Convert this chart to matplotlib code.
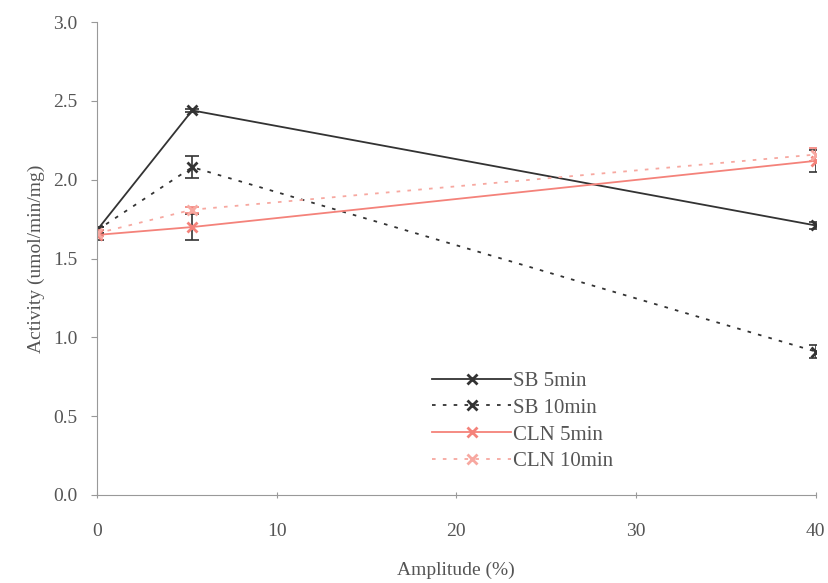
import numpy as np
import matplotlib
matplotlib.use("Agg")
import matplotlib.pyplot as plt

plt.rcParams['font.family'] = ['Liberation Serif', 'DejaVu Serif']

# data
amp = [0, 5.3, 40]
sb5 = [1.68, 2.44, 1.71]
sb5_err = [0.02, 0.01, 0.02]
sb10 = [1.68, 2.08, 0.91]
sb10_err = [0.02, 0.07, 0.04]
cln5 = [1.65, 1.70, 2.12]
cln5_err = [0.03, 0.08, 0.07]
cln10 = [1.66, 1.81, 2.16]
cln10_err = [0.02, 0.02, 0.04]

dark = '#333333'
pink = '#f4827a'
pink_light = '#f7a8a0'
txt = '#555555'

fig = plt.figure(figsize=(8.29, 5.83), dpi=100)
ax = fig.add_axes([0.117, 0.151, 0.867, 0.811])

series = [
    (sb5, sb5_err, dark, '-', dark, 'SB 5min'),
    (sb10, sb10_err, dark, (0, (2, 4)), dark, 'SB 10min'),
    (cln5, cln5_err, pink, '-', dark, 'CLN 5min'),
    (cln10, cln10_err, pink_light, (0, (2, 4)), pink, 'CLN 10min'),
]
for y, err, c, ls, ec, lab in series:
    ax.errorbar(amp, y, yerr=err, fmt='none', ecolor=ec, elinewidth=1.2, capsize=5, capthick=1.2)
    ax.plot(amp, y, color=c, ls=ls, lw=1.3, marker='x', ms=7, mew=2, label=lab)

ax.set_xlim(0, 40)
ax.set_ylim(0, 3.0)
ax.set_xticks([0, 10, 20, 30, 40])
ax.set_yticks(np.arange(0, 3.01, 0.5))
ax.set_yticklabels(['%.1f' % v for v in np.arange(0, 3.01, 0.5)])
for s in ['top', 'right']:
    ax.spines[s].set_visible(False)
for s in ['left', 'bottom']:
    ax.spines[s].set_color('#999999')
ax.tick_params(axis='x', colors=txt, labelsize=14, pad=18, length=4, direction='inout', color='#999999')
ax.tick_params(axis='y', colors=txt, labelsize=14, pad=10, length=4, direction='out', color='#999999')
ax.set_xlabel('Amplitude (%)', fontsize=14, color=txt, labelpad=16)
ax.set_ylabel('Activity (umol/min/mg)', fontsize=14, color=txt, labelpad=6)

leg = ax.legend(loc='lower left', bbox_to_anchor=(0.44, 0.01), frameon=False, fontsize=15,
                handlelength=3.8, labelspacing=0.35, handletextpad=0.1)
for t in leg.get_texts():
    t.set_color(txt)

fig.savefig('out.png', dpi=100)
